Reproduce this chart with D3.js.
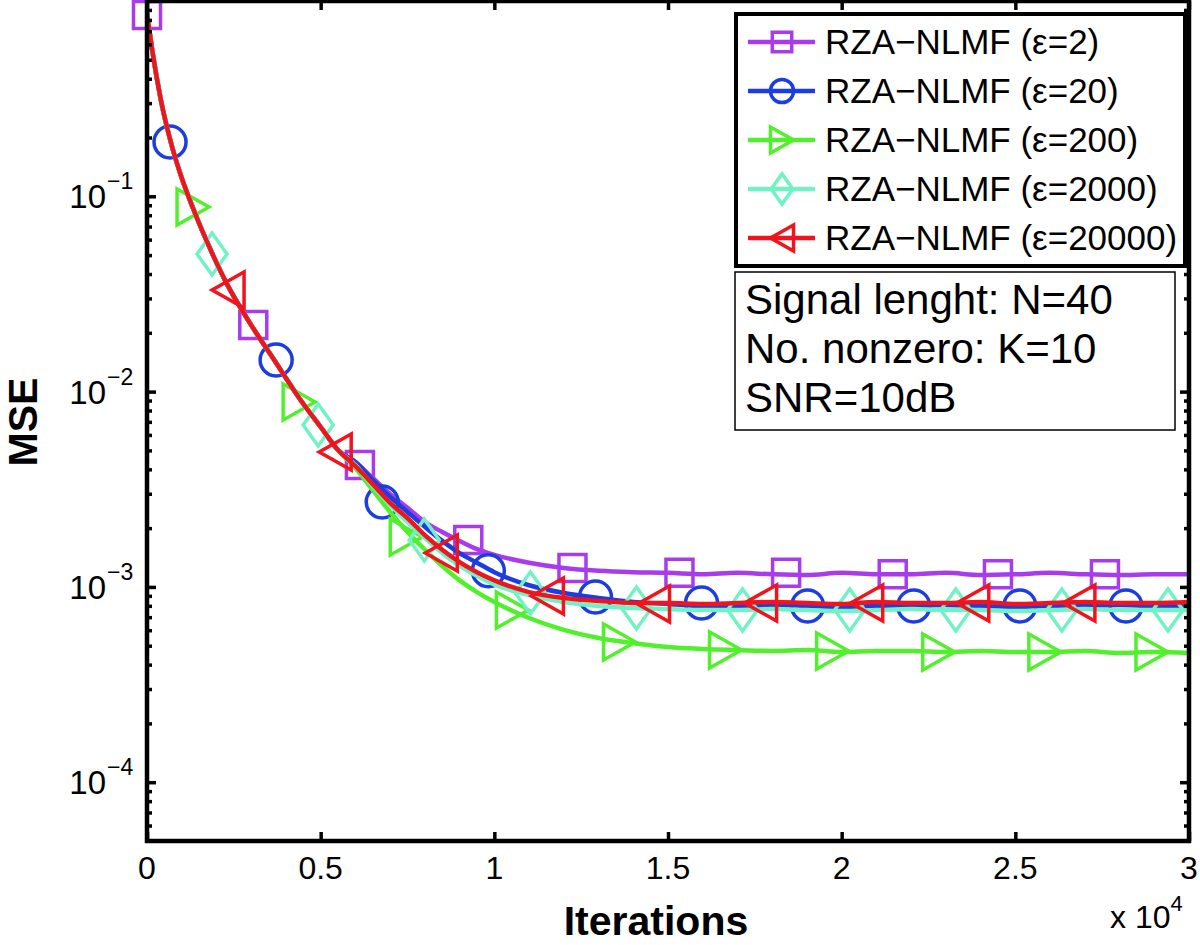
<!DOCTYPE html>
<html><head><meta charset="utf-8">
<script src="https://cdn.jsdelivr.net/npm/d3@7"></script>
<style>body{margin:0;background:#fff} svg{display:block}</style>
</head><body><svg id="c" width="1200" height="945"></svg>
<script>
// ---- data ----
const iterations = [0,150,400,700,1000,1300,1900,2300,3000,3700,4400,5000,5500,6000,6500,7000,7500,8000,8500,9000,9500,10000,11000,12000,13000,14000,15000,16000,17000,18000,19000,20000,21000,22000,23000,24000,25000,26000,27000,28000,29000,30000];
const earlyDecay = [0.87,0.561,0.311,0.1853,0.1241,0.0892,0.0500,0.0356,0.0219,0.01418,0.00917,0.00659,0.00502];
const mseEps2 = earlyDecay.concat([0.00436,0.00361,0.00299,0.00254,0.00215,0.00191,0.00172,0.00156,0.00146,0.00133,0.00125,0.00121,0.00119,0.00118,0.00116,0.00118,0.00116,0.00115,0.00118,0.00116,0.00116,0.00118,0.00115,0.00116,0.00118,0.00116,0.00115,0.00116,0.00116]);
const mseEps20 = earlyDecay.concat([0.00436,0.00353,0.00289,0.00242,0.00203,0.00172,0.00149,0.00133,0.00119,0.00102,0.000931,0.000877,0.000837,0.000818,0.000799,0.000799,0.000808,0.000799,0.000789,0.000799,0.000799,0.000808,0.000799,0.000789,0.000799,0.000799,0.000808,0.000799,0.000799]);
const mseEps200 = earlyDecay.concat([0.00406,0.00313,0.00242,0.00191,0.00155,0.00128,0.00108,0.000941,0.000837,0.000693,0.000602,0.000547,0.000516,0.000492,0.000481,0.000475,0.000470,0.000475,0.000464,0.000470,0.000470,0.000464,0.000470,0.000464,0.000464,0.000470,0.000459,0.000464,0.000459]);
const mseEps2000 = earlyDecay.concat([0.00421,0.00329,0.00263,0.00215,0.00178,0.00149,0.00128,0.00114,0.00103,0.000909,0.000837,0.000799,0.000780,0.000770,0.000761,0.000761,0.000770,0.000761,0.000752,0.000761,0.000770,0.000761,0.000761,0.000752,0.000761,0.000770,0.000761,0.000761,0.000761]);
const mseEps20000 = earlyDecay.concat([0.00416,0.00336,0.00269,0.00225,0.00184,0.00155,0.00134,0.00119,0.00108,0.000941,0.000877,0.000847,0.000827,0.000827,0.000818,0.000827,0.000837,0.000827,0.000818,0.000837,0.000827,0.000827,0.000837,0.000818,0.000827,0.000837,0.000827,0.000827,0.000837]);

const markerItersEps2 = [0,3060,6130,9250,12250,15330,18400,21470,24500,27580];
const markerMseEps2 = [0.848,0.0219,0.00421,0.00174,0.00125,0.00118,0.00118,0.00116,0.00116,0.00116];
const markerItersEps20 = [663,3718,6772,9827,12911,15966,19020,22075,25130,28185];
const markerMseEps20 = [0.1897,0.01452,0.00272,0.00121,0.000888,0.000827,0.000799,0.000799,0.000799,0.000799];
const markerItersEps200 = [1326,4380,7464,10519,13603,16657,19741,22795,25850,28934];
const markerMseEps200 = [0.0882,0.00885,0.00180,0.000761,0.000522,0.000475,0.000470,0.000464,0.000464,0.000464];
const markerItersEps2000 = [1873,4928,7983,11038,14093,17147,20231,23286,26340,29395];
const markerMseEps2000 = [0.0506,0.00675,0.00174,0.000931,0.000780,0.000761,0.000761,0.000761,0.000761,0.000761];
const markerItersEps20000 = [2334,5418,8473,11528,14583,17666,20721,23775,26830];
const markerMseEps20000 = [0.0331,0.00491,0.00149,0.000898,0.000818,0.000827,0.000827,0.000827,0.000827];

const seriesLabels = ["RZA\u2212NLMF (\u03b5=2)","RZA\u2212NLMF (\u03b5=20)","RZA\u2212NLMF (\u03b5=200)","RZA\u2212NLMF (\u03b5=2000)","RZA\u2212NLMF (\u03b5=20000)"];
const seriesColors = ["#a83cec","#1c3de0","#52f02c","#72f2c4","#f0141e"];
const seriesMarkers = ["square","circle","triRight","diamond","triLeft"];
const xTickValues = [0,5000,10000,15000,20000,25000,30000];
const xTickLabels = ["0","0.5","1","1.5","2","2.5","3"];
const yTickValues = [1e-1,1e-2,1e-3,1e-4];
const yTickExps = ["\u22121","\u22122","\u22123","\u22124"];
const infoLines = ["Signal lenght: N=40","No. nonzero: K=10","SNR=10dB"];

const series = [
  {vals: mseEps2, mx: markerItersEps2, my: markerMseEps2},
  {vals: mseEps20, mx: markerItersEps20, my: markerMseEps20},
  {vals: mseEps200, mx: markerItersEps200, my: markerMseEps200},
  {vals: mseEps2000, mx: markerItersEps2000, my: markerMseEps2000},
  {vals: mseEps20000, mx: markerItersEps20000, my: markerMseEps20000}
];

// ---- layout ----
const FONT = "'Liberation Sans', Arial, Helvetica, sans-serif";
const L = 147, R = 1189, T = 1, B = 841;
const svg = d3.select("#c");
const x = d3.scaleLinear().domain([0,30000]).range([L,R]);
const y = d3.scaleLog().domain([5e-5,1]).range([B,T]);

svg.append("defs").append("clipPath").attr("id","clip")
  .append("rect").attr("x",L).attr("y",T).attr("width",R-L).attr("height",B-T);

function markerPath(type, s){
  const p = d3.path();
  if(type==="square"){ const h=13.5*s; p.rect(-h,-h,2*h,2*h); }
  else if(type==="circle"){ const r=16*s; p.moveTo(r,0); p.arc(0,0,r,0,2*Math.PI); }
  else if(type==="triRight"){ const w=16*s,h=18*s; p.moveTo(-w,-h); p.lineTo(w,0); p.lineTo(-w,h); p.closePath(); }
  else if(type==="triLeft"){ const w=16*s,h=18*s; p.moveTo(w,-h); p.lineTo(-w,0); p.lineTo(w,h); p.closePath(); }
  else if(type==="diamond"){ const w=15*s,h=21*s; p.moveTo(0,-h); p.lineTo(w,0); p.lineTo(0,h); p.lineTo(-w,0); p.closePath(); }
  return p.toString();
}

// ---- series ----
const line = d3.line().x(d=>x(d[0])).y(d=>y(d[1])).curve(d3.curveMonotoneX);
series.forEach((s,i)=>{
  const pts = iterations.map((it,k)=>[it,s.vals[k]]);
  svg.append("path").attr("d",line(pts)).attr("clip-path","url(#clip)")
    .attr("fill","none").attr("stroke",seriesColors[i]).attr("stroke-width",4.5)
    .attr("stroke-linejoin","round");
  const mk = s.mx.map((it,k)=>[it,s.my[k]]);
  svg.append("g").selectAll("path").data(mk).join("path")
    .attr("transform",d=>`translate(${x(d[0])},${y(d[1])})`)
    .attr("d",markerPath(seriesMarkers[i],1))
    .attr("fill","none").attr("stroke",seriesColors[i]).attr("stroke-width",3.5);
});

// ---- axes ----
const ax = svg.append("g").attr("class","axes");
const minorVals = [];
for(let e=-5;e<=0;e++) for(let k=2;k<=9;k++){ const v=k*Math.pow(10,e); if(v>5e-5 && v<1) minorVals.push(v); }
function styleAxis(g){ g.select(".domain").remove(); g.selectAll("line").attr("stroke","#000").attr("stroke-width",3.5); g.selectAll("text").remove(); }
ax.append("g").attr("transform",`translate(0,${B})`).call(d3.axisBottom(x).tickValues(xTickValues).tickSize(-9).tickFormat("")).call(styleAxis);
ax.append("g").attr("transform",`translate(0,${T})`).call(d3.axisTop(x).tickValues(xTickValues).tickSize(-9).tickFormat("")).call(styleAxis);
ax.append("g").attr("transform",`translate(${L},0)`).call(d3.axisLeft(y).tickValues(yTickValues).tickSize(-9).tickFormat("")).call(styleAxis);
ax.append("g").attr("transform",`translate(${R},0)`).call(d3.axisRight(y).tickValues(yTickValues).tickSize(-9).tickFormat("")).call(styleAxis);
ax.append("g").attr("transform",`translate(${L},0)`).call(d3.axisLeft(y).tickValues(minorVals).tickSize(-5).tickFormat("")).call(styleAxis);
ax.append("g").attr("transform",`translate(${R},0)`).call(d3.axisRight(y).tickValues(minorVals).tickSize(-5).tickFormat("")).call(styleAxis);
ax.append("rect").attr("x",L).attr("y",T).attr("width",R-L).attr("height",B-T)
  .attr("fill","none").attr("stroke","#000").attr("stroke-width",4.5);

// tick labels
ax.append("g").selectAll("text").data(xTickValues).join("text")
  .attr("x",d=>x(d)).attr("y",B+38).attr("text-anchor","middle")
  .attr("font-family",FONT).attr("font-size",32).text((d,i)=>xTickLabels[i]);
const yl = ax.append("g").selectAll("g").data(yTickValues).join("g");
yl.append("text").attr("x",106).attr("y",d=>y(d)+12).attr("text-anchor","end")
  .attr("font-family",FONT).attr("font-size",33).text("10");
yl.append("text").attr("x",107).attr("y",d=>y(d)-7).attr("text-anchor","start")
  .attr("font-family",FONT).attr("font-size",23).text((d,i)=>yTickExps[i]);

// axis titles
svg.append("text").attr("x",(L+R)/2-12).attr("y",935).attr("text-anchor","middle")
  .attr("font-family",FONT).attr("font-weight","bold").attr("font-size",41).text("Iterations");
svg.append("text").attr("transform","translate(37,422) rotate(-90)").attr("text-anchor","middle")
  .attr("font-family",FONT).attr("font-weight","bold").attr("font-size",41).text("MSE");
const ex = svg.append("text").attr("x",1110).attr("y",928).attr("font-family",FONT).attr("font-size",32);
ex.append("tspan").text("x 10");
ex.append("tspan").attr("dy",-17).attr("font-size",22).text("4");

// ---- legend ----
const lg = svg.append("g");
lg.append("rect").attr("x",736).attr("y",14).attr("width",449).attr("height",252)
  .attr("fill","#fff").attr("stroke","#000").attr("stroke-width",4);
const rowY = d3.scaleLinear().domain([0,4]).range([42,238]);
seriesLabels.forEach((lab,i)=>{
  const cy = rowY(i);
  lg.append("line").attr("x1",748).attr("x2",815).attr("y1",cy).attr("y2",cy)
    .attr("stroke",seriesColors[i]).attr("stroke-width",4.5);
  lg.append("path").attr("transform",`translate(782,${cy})`).attr("d",markerPath(seriesMarkers[i],0.72))
    .attr("fill","none").attr("stroke",seriesColors[i]).attr("stroke-width",3.5);
  lg.append("text").attr("x",825).attr("y",cy+12).attr("font-family",FONT).attr("font-size",35).text(lab);
});

// ---- info box ----
const ib = svg.append("g");
ib.append("rect").attr("x",735).attr("y",272).attr("width",440).attr("height",158)
  .attr("fill","#fff").attr("stroke","#000").attr("stroke-width",1.5);
ib.selectAll("text").data(infoLines).join("text")
  .attr("x",745).attr("y",(d,i)=>314+i*49).attr("font-family",FONT).attr("font-size",42).text(d=>d);
</script></body></html>
